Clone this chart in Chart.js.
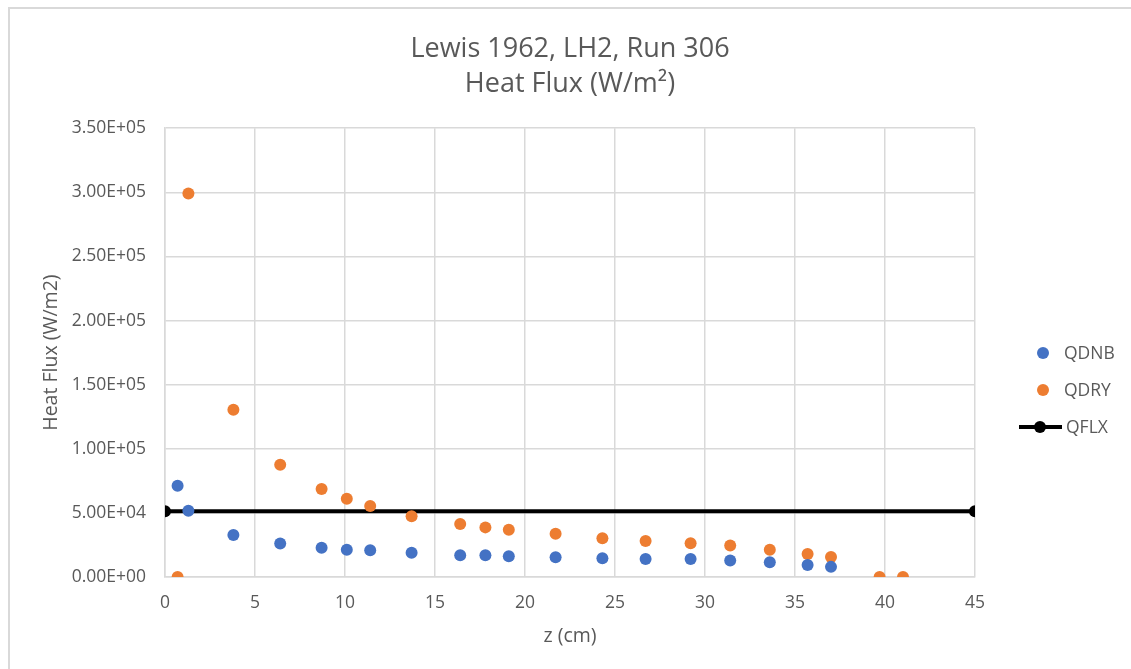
<!DOCTYPE html>
<html>
<head>
<meta charset="utf-8">
<title>Lewis 1962, LH2, Run 306</title>
<script src="https://cdn.jsdelivr.net/npm/chart.js@4.4.1/dist/chart.umd.min.js"></script>
<style>
    html, body { margin: 0; padding: 0; background: #ffffff; }
    #chart_wrap { position: relative; width: 1131px; height: 669px; }
</style>
</head>
<body>
<div id="chart_wrap"><canvas id="heat_flux"></canvas></div>
<script>
// axial positions (cm) shared by both measured series
const zPositions = [0.7, 1.3, 3.8, 6.4, 8.7, 10.1, 11.4, 13.7, 16.4, 17.8, 19.1,
    21.7, 24.3, 26.7, 29.2, 31.4, 33.6, 35.7, 37.0, 39.7, 41.0];

// QDNB stops at z = 37.0
const qdnbValues = [71200, 51700, 32800, 26200, 22900, 21300, 20800, 19000, 16900, 16900, 16100,
    15400, 14600, 14100, 14100, 12800, 11500, 9400, 7900];

const qdryValues = [0, 299000, 130400, 87500, 68600, 61000, 55400, 47300, 41300, 38700, 36900,
    33800, 30200, 28100, 26300, 24500, 21300, 18000, 15600, 0, 0];

// applied heat flux, constant over the tube
const qflxZ = [0, 45];
const qflxValues = [51200, 51200];

const seriesNames = ['QDNB', 'QDRY', 'QFLX'];

const FONT = "'Open Sans', 'Liberation Sans', sans-serif";
const TEXT_GREY = '#595959';
const GRID_GREY = '#d9d9d9';

function toPoints(xs, ys) {
    return ys.map((y, i) => ({ x: xs[i], y: y }));
}

// Excel style 3.50E+05
function excelSci(value) {
    const parts = Number(value).toExponential(2).split('e');
    const exp = parseInt(parts[1], 10);
    const sign = exp < 0 ? '-' : '+';
    return parts[0] + 'E' + sign + String(Math.abs(exp)).padStart(2, '0');
}

// thin frame left over from the spreadsheet screenshot
const sheetFrame = {
    id: 'sheetFrame',
    beforeDraw(chart) {
        const ctx = chart.ctx;
        ctx.save();
        ctx.fillStyle = GRID_GREY;
        ctx.fillRect(8, 7, 2, chart.height);
        ctx.fillRect(8, 7, chart.width, 2);
        ctx.restore();
    }
};

// legend on the right, drawn from the dataset styles
const sideLegend = {
    id: 'sideLegend',
    afterDraw(chart) {
        const ctx = chart.ctx;
        const rowY = [353, 390, 427];
        ctx.save();
        ctx.font = '17.5px ' + FONT;
        ctx.textBaseline = 'middle';
        chart.data.datasets.forEach((ds, i) => {
            const y = rowY[i];
            if (ds.showLine) {
                ctx.strokeStyle = ds.borderColor;
                ctx.lineWidth = ds.borderWidth;
                ctx.beginPath();
                ctx.moveTo(1019, y);
                ctx.lineTo(1062, y);
                ctx.stroke();
            }
            ctx.fillStyle = ds.pointBackgroundColor;
            ctx.beginPath();
            ctx.arc(ds.showLine ? 1040 : 1043, y, ds.pointRadius, 0, Math.PI * 2);
            ctx.fill();
            ctx.fillStyle = TEXT_GREY;
            ctx.fillText(ds.label, ds.showLine ? 1066 : 1064, y + 1);
        });
        ctx.restore();
    }
};

const ctx = document.getElementById('heat_flux').getContext('2d');

const heatFluxChart = new Chart(ctx, {
    type: 'scatter',
    data: {
        datasets: [{
            label: seriesNames[0],
            data: toPoints(zPositions, qdnbValues),
            pointBackgroundColor: '#4472c4',
            backgroundColor: '#4472c4',
            pointBorderWidth: 0,
            pointRadius: 6,
            showLine: false
        }, {
            label: seriesNames[1],
            data: toPoints(zPositions, qdryValues),
            pointBackgroundColor: '#ed7d31',
            backgroundColor: '#ed7d31',
            pointBorderWidth: 0,
            pointRadius: 6,
            showLine: false
        }, {
            label: seriesNames[2],
            data: toPoints(qflxZ, qflxValues),
            borderColor: '#000000',
            borderWidth: 4,
            pointBackgroundColor: '#000000',
            backgroundColor: '#000000',
            pointBorderWidth: 0,
            pointRadius: 6,
            showLine: true
        }]
    },
    options: {
        responsive: true,
        maintainAspectRatio: false,
        animation: false,
        layout: {
            padding: { left: 10, right: 156, top: 0, bottom: 0 }
        },
        plugins: {
            legend: { display: false },
            tooltip: { enabled: false },
            title: {
                display: true,
                fullSize: false,
                text: ['Lewis 1962, LH2, Run 306', 'Heat Flux (W/m\u00b2)'],
                color: TEXT_GREY,
                font: { family: FONT, size: 27, weight: 'normal', lineHeight: 1.3 },
                padding: { top: 32, bottom: 26 }
            }
        },
        scales: {
            x: {
                type: 'linear',
                min: 0,
                max: 45,
                afterFit: (scale) => { scale.height = 92; },
                grid: { color: GRID_GREY, lineWidth: 1.5, drawTicks: false },
                border: { color: GRID_GREY, width: 1.5 },
                ticks: {
                    stepSize: 5,
                    padding: 16,
                    color: TEXT_GREY,
                    font: { family: FONT, size: 17.5 }
                },
                title: {
                    display: true,
                    text: 'z (cm)',
                    color: TEXT_GREY,
                    font: { family: FONT, size: 19.5 },
                    padding: { top: 0, bottom: 21 }
                }
            },
            y: {
                type: 'linear',
                min: 0,
                max: 350000,
                afterFit: (scale) => { scale.width = 155; },
                grid: { color: GRID_GREY, lineWidth: 1.5, drawTicks: false },
                border: { color: GRID_GREY, width: 1.5 },
                ticks: {
                    stepSize: 50000,
                    padding: 19,
                    color: TEXT_GREY,
                    font: { family: FONT, size: 17.5 },
                    callback: (value) => excelSci(value)
                },
                title: {
                    display: true,
                    text: 'Heat Flux (W/m2)',
                    color: TEXT_GREY,
                    font: { family: FONT, size: 19.5 },
                    padding: { top: 30, bottom: 0 }
                }
            }
        }
    },
    plugins: [sheetFrame, sideLegend]
});
</script>
</body>
</html>
